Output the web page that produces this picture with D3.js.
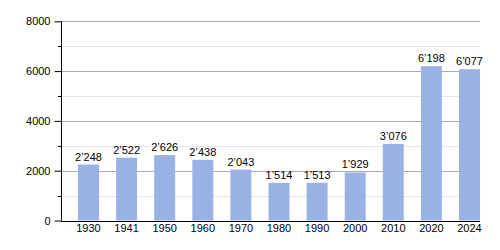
<!DOCTYPE html>
<html>
<head>
<meta charset="utf-8">
<script src="https://cdn.jsdelivr.net/npm/d3@7"></script>
<style>
  body { margin: 0; background: #fff; }
  text { font-family: "Liberation Sans", Arial, sans-serif; font-size: 11px; fill: #000; }
</style>
</head>
<body>
<div id="viz"></div>
<script>
var width = 500;
var height = 250;

var years = ['1930', '1941', '1950', '1960', '1970', '1980', '1990', '2000', '2010', '2020', '2024'];
var population = [2248, 2522, 2626, 2438, 2043, 1514, 1513, 1929, 3076, 6198, 6077];
var majorTicks = [0, 2000, 4000, 6000, 8000];
var minorTicks = [1000, 3000, 5000, 7000];

var left = 61;
var right = 480;

var x = d3.scaleBand()
  .domain(years)
  .range([69.45, 488.55])
  .paddingInner(0.45)
  .paddingOuter(0.225);

var y = d3.scaleLinear()
  .domain([0, 8000])
  .range([220.5, 21.3]);

// thousands separator like 2'248
function fmt(v) {
  return d3.format(',')(v).replace(',', '\u2019');
}

var svg = d3.select('#viz').append('svg')
  .attr('width', width)
  .attr('height', height);

// minor grid
svg.selectAll('line.minor')
  .data(minorTicks).enter()
  .append('line')
  .attr('class', 'minor')
  .attr('x1', left).attr('x2', right)
  .attr('y1', function (d) { return Math.round(y(d)) + 0.5; })
  .attr('y2', function (d) { return Math.round(y(d)) + 0.5; })
  .style('stroke', '#e6e6e6');

// major grid
svg.selectAll('line.major')
  .data(majorTicks.slice(1)).enter()
  .append('line')
  .attr('class', 'major')
  .attr('x1', left).attr('x2', right)
  .attr('y1', function (d) { return Math.round(y(d)) + 0.5; })
  .attr('y2', function (d) { return Math.round(y(d)) + 0.5; })
  .style('stroke', '#aaa');

// bars
svg.selectAll('rect.bar')
  .data(population).enter()
  .append('rect')
  .attr('class', 'bar')
  .attr('x', function (d, i) { return x(years[i]); })
  .attr('width', x.bandwidth())
  .attr('y', function (d) { return y(d); })
  .attr('height', function (d) { return y(0) - y(d); })
  .style('fill', '#99b1e3');

// value labels
svg.selectAll('text.val')
  .data(population).enter()
  .append('text')
  .attr('class', 'val')
  .attr('x', function (d, i) { return x(years[i]) + x.bandwidth() / 2; })
  .attr('y', function (d) { return y(d) - 4; })
  .attr('text-anchor', 'middle')
  .text(fmt);

// y axis
var yAxis = d3.axisLeft(y)
  .tickValues(majorTicks)
  .tickFormat(d3.format('d'))
  .tickSize(7)
  .tickPadding(4);

var gy = svg.append('g')
  .attr('transform', 'translate(' + (left + 0.5) + ',0)')
  .call(yAxis);
gy.select('.domain').remove();
gy.selectAll('.tick line').style('stroke', '#000');
gy.selectAll('.tick text').style('font-size', '11px').style('font-family', '"Liberation Sans", Arial, sans-serif');

svg.selectAll('line.minortick')
  .data(minorTicks).enter()
  .append('line')
  .attr('class', 'minortick')
  .attr('x1', left - 3).attr('x2', left)
  .attr('y1', function (d) { return Math.round(y(d)) + 0.5; })
  .attr('y2', function (d) { return Math.round(y(d)) + 0.5; })
  .style('stroke', '#000');

svg.append('line')
  .attr('x1', left + 0.5).attr('x2', left + 0.5)
  .attr('y1', y(8000)).attr('y2', y(0))
  .style('stroke', '#000');

// x axis
svg.append('line')
  .attr('x1', left).attr('x2', right)
  .attr('y1', Math.round(y(0)) + 0.5).attr('y2', Math.round(y(0)) + 0.5)
  .style('stroke', '#000');

svg.selectAll('text.year')
  .data(years).enter()
  .append('text')
  .attr('class', 'year')
  .attr('x', function (d) { return x(d) + x.bandwidth() / 2; })
  .attr('y', 232)
  .attr('text-anchor', 'middle')
  .text(function (d) { return d; });
</script>
</body>
</html>
